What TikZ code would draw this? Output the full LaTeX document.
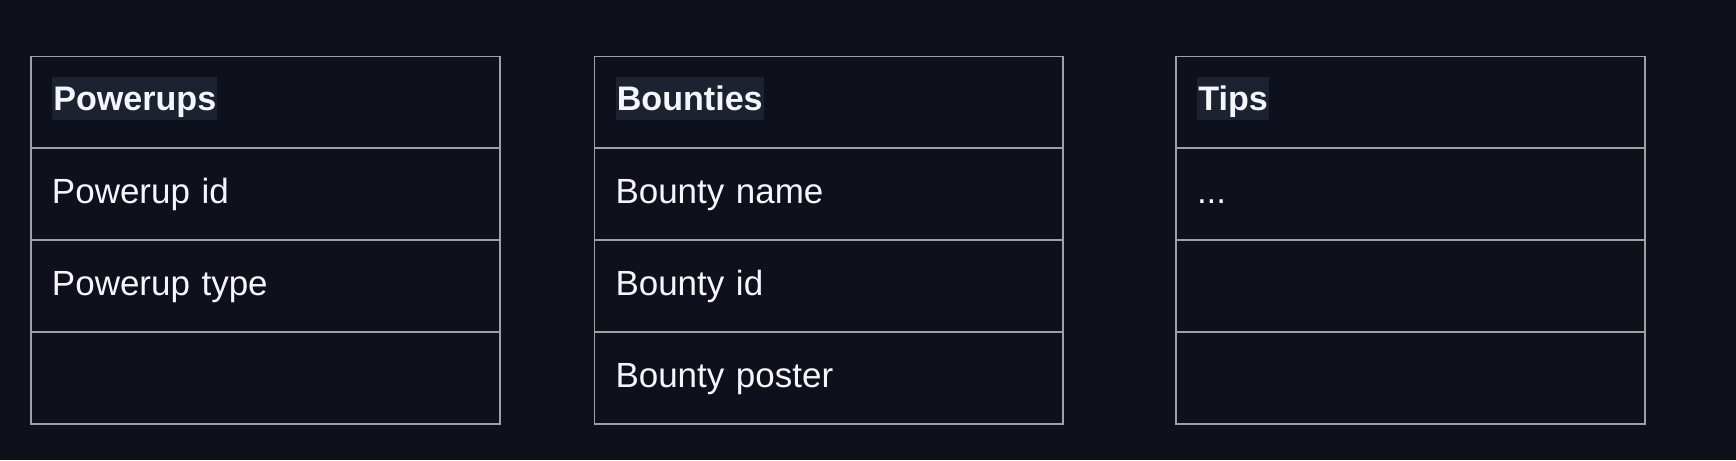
\documentclass[tikz,border=0pt]{standalone}
\usepackage{fontspec}
\setmainfont{Liberation Sans}
\usetikzlibrary{positioning}

\definecolor{bg}{HTML}{0E111C}
\definecolor{rule}{HTML}{A0A0A0}
\definecolor{hl}{HTML}{1C2230}
\definecolor{ink}{HTML}{F4F6FA}

\tikzset{
  cell/.style={draw=rule, line width=1.1pt, outer sep=0pt, rectangle,
    minimum height=1.838cm, text width=8.54cm, inner xsep=0.42cm,
    text height=0.5cm, text depth=0.14cm, align=left, text=ink,
    font=\fontsize{19.9pt}{24pt}\selectfont},
  title/.style={fill=hl, inner xsep=0.02cm, inner ysep=0pt,
    text height=0.66cm, text depth=0.19cm, text=ink,
    font=\fontsize{19.4pt}{24pt}\selectfont\bfseries}
}

\begin{document}
\begin{tikzpicture}[x=0.02cm, y=0.02cm, node distance=0pt]
\fill[bg] (0,0) rectangle (1736,460);
\useasboundingbox (0,0) rectangle (1736,460);

% Powerups
\node[cell, anchor=north west] (pw0) at (31,403.5) {};
\node[cell, below=of pw0] (pw1) {Powerup id};
\node[cell, below=of pw1] (pw2) {Powerup type};
\node[cell, below=of pw2] (pw3) {};
\node[title, anchor=base west] (pw-t) at ([xshift=0.42cm, yshift=-0.155cm]pw0.west) {Powerups};

% Bounties
\node[cell, anchor=north west] (bt0) at (594.5,403.5) {};
\node[cell, below=of bt0] (bt1) {Bounty name};
\node[cell, below=of bt1] (bt2) {Bounty id};
\node[cell, below=of bt2] (bt3) {Bounty poster};
\node[title, anchor=base west] (bt-t) at ([xshift=0.42cm, yshift=-0.155cm]bt0.west) {Bounties};

% Tips
\node[cell, anchor=north west] (tp0) at (1176,403.5) {};
\node[cell, below=of tp0] (tp1) {...};
\node[cell, below=of tp1] (tp2) {};
\node[cell, below=of tp2] (tp3) {};
\node[title, anchor=base west] (tp-t) at ([xshift=0.42cm, yshift=-0.155cm]tp0.west) {Tips};
\end{tikzpicture}
\end{document}
